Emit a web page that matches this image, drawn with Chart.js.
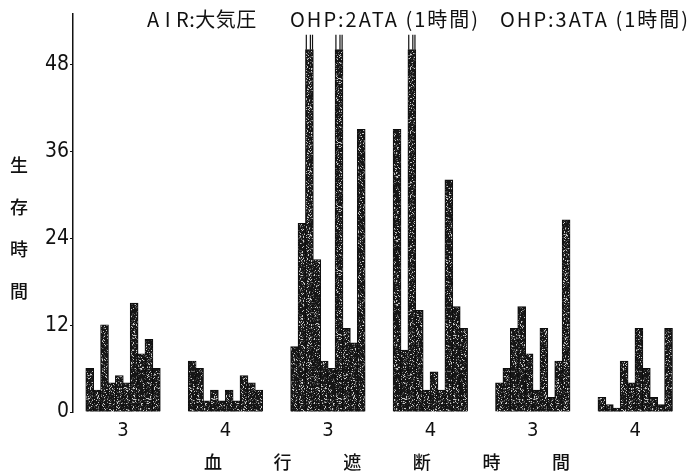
<!DOCTYPE html>
<html>
<head>
<meta charset="utf-8">
<script src="https://cdn.jsdelivr.net/npm/chart.js@4.4.1/dist/chart.umd.min.js"></script>
<style>
  html, body { margin: 0; padding: 0; background: #fff; }
  #c { display: block; }
</style>
</head>
<body>
<canvas id="c" width="693" height="476"></canvas>
<script>
// Header texts over the groups
const headerTexts = ['A I R:大気圧', 'OHP:2ATA (1時間)', 'OHP:3ATA (1時間)'];
// Label under each group (hours of blood flow interruption)
const groupLabels = ['3', '4', '3', '4', '3', '4'];
// Axis titles, one character per slot
const yTitleChars = ['生', '存', '時', '間'];
const xTitleChars = ['血', '行', '遮', '断', '時', '間'];
// Y axis tick values
const yTickValues = [0, 12, 24, 36, 48];

// Survival time (hours) of each animal, one array per group
const air3  = [6, 3, 12, 4, 5, 4, 15, 8, 10, 6];
const air4  = [7, 6, 1.5, 3, 1.5, 3, 1.5, 5, 4, 3];
const ohp2h3 = [9, 26, 50, 21, 7, 6, 50, 11.5, 9.5, 39];
const ohp2h4 = [39, 8.5, 50, 14, 3, 5.5, 3, 32, 14.5, 11.5];
const ohp3h3 = [4, 6, 11.5, 14.5, 8, 3, 11.5, 2, 7, 26.5];
const ohp3h4 = [2, 1, 0.5, 7, 4, 11.5, 6, 2, 1, 11.5];

const groups = [air3, air4, ohp2h3, ohp2h4, ohp3h3, ohp3h4];
const AXIS_TOP_VALUE = 48;   // bars above this are drawn with a break mark

// layout in bar units
const GROUP_PITCH = 13.84;
const X_MIN = -1.76;
const X_MAX = 81.6;

const points = [];
groups.forEach((arr, k) => {
  arr.forEach((v, i) => points.push({ x: k * GROUP_PITCH + i + 0.5, y: v }));
});

// stippled dark fill for the bars (integer hash, no visible repeat stripes)
function stipple() {
  const n = 64;
  const c = document.createElement('canvas');
  c.width = n; c.height = n;
  const g = c.getContext('2d');
  const img = g.createImageData(n, n);
  for (let y = 0; y < n; y++) {
    for (let x = 0; x < n; x++) {
      let h = (x * 73856093) ^ (y * 19349663);
      h = Math.imul(h ^ (h >>> 13), 0x5bd1e995);
      h = (h ^ (h >>> 15)) >>> 0;
      const f = (h % 1000) / 1000;
      let v = 22;
      if (f > 0.90) v = 200;
      else if (f > 0.80) v = 110;
      else if (f > 0.68) v = 60;
      const o = (y * n + x) * 4;
      img.data[o] = v; img.data[o + 1] = v; img.data[o + 2] = v; img.data[o + 3] = 255;
    }
  }
  g.putImageData(img, 0, 0);
  return document.getElementById('c').getContext('2d').createPattern(c, 'repeat');
}

const NUM_FONT = "'Liberation Sans Narrow', 'DejaVu Sans Condensed', 'Liberation Sans', sans-serif";
const JP_FONT = "'Noto Sans CJK JP', 'Noto Sans', sans-serif";

const decorations = {
  id: 'decorations',
  afterDatasetsDraw(chart) {
    const ctx = chart.ctx;
    const meta = chart.getDatasetMeta(0);
    ctx.save();
    ctx.strokeStyle = '#111';
    ctx.lineWidth = 1.2;
    meta.data.forEach((bar, idx) => {
      const v = points[idx].y;
      if (v <= AXIS_TOP_VALUE) return;
      const p = bar.getProps(['x', 'y', 'width'], true);
      const l = p.x - p.width / 2 + 0.6;
      const r = p.x + p.width / 2 - 0.6;
      const m = l + p.width * 0.55;
      const top = p.y - 15;
      ctx.beginPath();
      ctx.moveTo(l, p.y); ctx.lineTo(l, top);
      ctx.moveTo(m, p.y); ctx.lineTo(m, top);
      ctx.moveTo(r, p.y); ctx.lineTo(r, top);
      ctx.stroke();
    });
    ctx.restore();
  },
  afterDraw(chart) {
    const ctx = chart.ctx;
    const xs = chart.scales.x;
    ctx.save();
    ctx.fillStyle = '#111';

    // headers
    ctx.font = '20px ' + JP_FONT;
    ctx.textAlign = 'left';
    ctx.textBaseline = 'alphabetic';
    const headerX = [147, 290, 500];
    const headerSpacing = ['0.5px', '2px', '2px'];
    headerTexts.forEach((t, i) => {
      ctx.letterSpacing = headerSpacing[i];
      ctx.fillText(t, headerX[i], 27);
    });
    ctx.letterSpacing = '0px';

    // group labels
    ctx.font = '20px ' + NUM_FONT;
    ctx.textAlign = 'center';
    ctx.textBaseline = 'middle';
    groupLabels.forEach((t, k) => {
      const cx = xs.getPixelForValue(k * GROUP_PITCH + 5);
      ctx.fillText(t, cx, 431);
    });

    // y title, stacked
    ctx.font = '500 18px ' + JP_FONT;
    yTitleChars.forEach((t, i) => ctx.fillText(t, 19, 165 + i * 42));

    // x title, spaced
    xTitleChars.forEach((t, i) => ctx.fillText(t, 213 + i * 69.6, 462));
    ctx.restore();
  }
};

const ctx = document.getElementById('c').getContext('2d');
new Chart(ctx, {
  type: 'bar',
  data: {
    datasets: [{
      data: points,
      backgroundColor: stipple(),
      borderColor: '#0d0d0d',
      borderWidth: 1,
      borderSkipped: 'bottom',
      inflateAmount: 0.6,
      categoryPercentage: 1,
      barPercentage: 1,
      grouped: false
    }]
  },
  options: {
    responsive: false,
    animation: false,
    devicePixelRatio: 1,
    layout: { padding: { left: 0, top: 10, right: 3, bottom: 64 } },
    plugins: { legend: { display: false }, tooltip: { enabled: false } },
    scales: {
      x: {
        type: 'linear',
        min: X_MIN,
        max: X_MAX,
        offset: false,
        bounds: 'data',
        display: false,
        grid: { offset: false },
        ticks: { stepSize: 40 }
      },
      y: {
        min: 0,
        max: 55,
        afterBuildTicks: (s) => { s.ticks = yTickValues.map(v => ({ value: v })); },
        afterFit: (s) => { s.width = 73; },
        border: { display: true, color: '#111', width: 1.5 },
        grid: { display: true, drawOnChartArea: false, drawTicks: true, tickLength: 3, color: '#111' },
        ticks: {
          color: '#111',
          padding: 1,
          font: { family: NUM_FONT, size: 21 }
        }
      }
    }
  },
  plugins: [decorations]
});
</script>
</body>
</html>
